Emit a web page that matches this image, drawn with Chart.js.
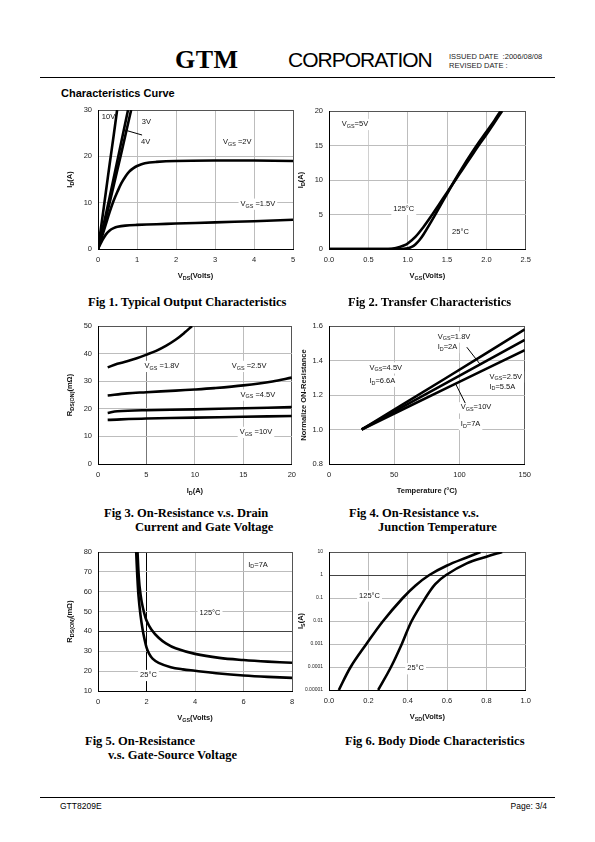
<!DOCTYPE html>
<html lang="en">
<head>
<meta charset="UTF-8">
<title>GTT8209E Characteristics Curve</title>
<style>
  body { margin: 0; background: #fff; }
  .page { position: relative; width: 595px; height: 842px; overflow: hidden; font-family: "Liberation Sans", Arial, sans-serif; color: #000; }
  .abs { position: absolute; white-space: nowrap; line-height: 1; }
  .cap { position: absolute; white-space: nowrap; font-family: "Liberation Serif", "Times New Roman", serif; font-weight: bold; font-size: 12.5px; line-height: 14px; }
  canvas { position: absolute; }
</style>
</head>
<body>
<div class="page">
  <div class="abs" style="left:175px;top:47px;font-family:'Liberation Serif',serif;font-weight:bold;font-size:26px;letter-spacing:0.5px;">GTM</div>
  <div class="abs" style="left:288px;top:49px;font-size:21px;letter-spacing:-1px;">CORPORATION</div>
  <div class="abs" style="left:449px;top:53px;font-size:7.5px;color:#222;">ISSUED DATE &nbsp;:2006/08/08</div>
  <div class="abs" style="left:449px;top:62px;font-size:7.5px;color:#222;">REVISED DATE :</div>
  <div class="abs" style="left:40px;top:77px;width:515px;height:1px;background:#000;"></div>
  <div class="abs" style="left:61px;top:88px;font-size:11px;font-weight:bold;">Characteristics Curve</div>

  <canvas id="fig1"></canvas>
  <canvas id="fig2"></canvas>
  <canvas id="fig3"></canvas>
  <canvas id="fig4"></canvas>
  <canvas id="fig5"></canvas>
  <canvas id="fig6"></canvas>

  <div class="cap" style="left:88px;top:295px;">Fig 1. Typical Output Characteristics</div>
  <div class="cap" style="left:348px;top:295px;">Fig 2. Transfer Characteristics</div>
  <div class="cap" style="left:104px;top:506px;">Fig 3. On-Resistance v.s. Drain</div>
  <div class="cap" style="left:135px;top:520px;">Current and Gate Voltage</div>
  <div class="cap" style="left:349px;top:506px;">Fig 4. On-Resistance v.s.</div>
  <div class="cap" style="left:378px;top:520px;">Junction Temperature</div>
  <div class="cap" style="left:85px;top:734px;">Fig 5. On-Resistance</div>
  <div class="cap" style="left:108px;top:748px;">v.s. Gate-Source Voltage</div>
  <div class="cap" style="left:345px;top:734px;">Fig 6. Body Diode Characteristics</div>

  <div class="abs" style="left:40px;top:797px;width:515px;height:1px;background:#000;"></div>
  <div class="abs" style="left:60px;top:802px;font-size:8.5px;">GTT8209E</div>
  <div class="abs" style="right:48px;top:802px;font-size:8.5px;">Page: 3/4</div>
</div>

<script src="https://cdn.jsdelivr.net/npm/chart.js@4.4.1/dist/chart.umd.min.js"></script>
<script>
// ---- Fig 1: output characteristics (VDS in V, ID in A)
const f1_vds_10v = [0, 0.1, 0.2, 0.3, 0.4, 0.49];
const f1_id_10v  = [0, 6, 12.2, 18.4, 24.4, 30];
const f1_vds_4v  = [0, 0.2, 0.4, 0.6, 0.77];
const f1_id_4v   = [0, 7.4, 15.2, 23.2, 30];
const f1_vds_3v  = [0, 0.2, 0.4, 0.6, 0.85];
const f1_id_3v   = [0, 6.6, 13.6, 20.8, 30];
const f1_vds_2v  = [0, 0.1, 0.2, 0.3, 0.4, 0.5, 0.6, 0.7, 0.8, 0.9, 1.0, 1.2, 1.5, 2, 3, 4, 5];
const f1_id_2v   = [0, 2.6, 5.3, 8.0, 10.4, 12.4, 14.2, 15.6, 16.7, 17.4, 17.9, 18.5, 18.8, 19.0, 19.1, 19.1, 19.0];
const f1_vds_15v = [0, 0.1, 0.2, 0.3, 0.4, 0.5, 0.7, 1, 1.5, 2, 3, 4, 5];
const f1_id_15v  = [0, 1.7, 3.1, 4.0, 4.5, 4.8, 5.05, 5.2, 5.35, 5.5, 5.75, 6.0, 6.3];

// ---- Fig 2: transfer characteristics (VGS in V, ID in A)
const f2_vgs_125 = [0, 0.75, 0.85, 0.95, 1.0, 1.1, 1.2, 1.3, 1.4, 1.5, 1.6, 1.7, 1.8, 1.9, 2.0, 2.1, 2.2];
const f2_id_125  = [0, 0, 0.15, 0.5, 0.8, 1.8, 3.2, 4.8, 6.5, 8.2, 9.9, 11.6, 13.3, 15.0, 16.6, 18.3, 20];
const f2_vgs_25  = [0, 0.9, 1.0, 1.05, 1.1, 1.15, 1.2, 1.3, 1.4, 1.5, 1.6, 1.7, 1.8, 1.9, 2.0, 2.1, 2.18];
const f2_id_25   = [0, 0, 0.1, 0.3, 0.7, 1.3, 2.1, 4.0, 6.0, 8.0, 10, 11.9, 13.7, 15.4, 17.0, 18.6, 20];

// ---- Fig 3: RDS(on) vs ID (ID in A, R in mOhm)
const f3_id_18v  = [1, 2, 3, 4, 5, 6, 7, 8, 9, 9.7];
const f3_r_18v   = [35, 36.3, 37.2, 38.3, 39.6, 41, 42.8, 45, 47.8, 50];
const f3_id_25v  = [1, 3, 5, 8, 10, 12, 15, 18, 20];
const f3_r_25v   = [24.8, 25.6, 26, 26.6, 27, 27.5, 28.5, 29.9, 31.3];
const f3_id_45v  = [1, 2, 5, 10, 15, 20];
const f3_r_45v   = [18.5, 19.1, 19.5, 19.8, 20.2, 20.6];
const f3_id_10v  = [1, 5, 10, 15, 20];
const f3_r_10v   = [16, 16.5, 16.8, 17.1, 17.4];

// ---- Fig 4: normalized RDS(on) vs junction temperature
const f4_temp    = [25, 90, 150];
const f4_top     = [1.0, 1.30, 1.58];
const f4_mid     = [1.0, 1.27, 1.52];
const f4_low     = [1.0, 1.24, 1.46];

// ---- Fig 5: RDS(on) vs VGS (ID = 7A)
const f5_vgs_25  = [1.575, 1.62, 1.67, 1.75, 1.84, 1.92, 2.0, 2.1, 2.25, 2.5, 3, 3.5, 4, 5, 6, 7, 8];
const f5_r_25    = [80, 68, 58, 48.5, 41, 36, 32, 29, 26.3, 24.2, 22, 20.9, 20.2, 18.8, 17.8, 17.1, 16.6];
const f5_vgs_125 = [1.63, 1.67, 1.72, 1.8, 1.9, 2.0, 2.2, 2.5, 2.8, 3.2, 4, 5, 6, 7, 8];
const f5_r_125   = [80, 70, 62, 55, 49.5, 45.5, 41, 36.8, 34, 31.5, 28.7, 26.7, 25.6, 24.8, 24.2];

// ---- Fig 6: body diode (VSD in V, IS in A, log)
const f6_vsd_125 = [0.05, 0.11, 0.19, 0.275, 0.375, 0.44, 0.51, 0.60, 0.70, 0.77];
const f6_is_125  = [1e-5, 1e-4, 1e-3, 1e-2, 0.1, 0.35, 1, 2.6, 5.8, 10];
const f6_vsd_25  = [0.25, 0.315, 0.37, 0.42, 0.49, 0.54, 0.595, 0.70, 0.80, 0.88];
const f6_is_25   = [1e-5, 1e-4, 1e-3, 1e-2, 0.1, 0.4, 1, 3.2, 6.2, 10];
const f6_yticks  = [1e-5, 1e-4, 1e-3, 1e-2, 0.1, 1, 10];
const f6_ylabels = ['0.00001', '0.0001', '0.001', '0.01', '0.1', '1', '10'];

const FONT = '"Liberation Sans", Arial, sans-serif';
const pts = (xs, ys) => xs.map((x, i) => ({ x: x, y: ys[i] }));

// text with _{sub} parts
function rich(ctx, text, x, y, size, bold, align, bg) {
  const parts = text.split(/(_\{[^}]*\})/).filter(s => s).map(s =>
    s.startsWith('_{') ? { s: s.slice(2, -1), sub: true } : { s: s, sub: false });
  const f = sz => (bold ? 'bold ' : '') + sz + 'px ' + FONT;
  let w = 0;
  parts.forEach(p => { ctx.font = f(p.sub ? size * 0.72 : size); p.w = ctx.measureText(p.s).width; w += p.w; });
  let sx = align === 'left' ? x : align === 'right' ? x - w : x - w / 2;
  if (bg) { ctx.fillStyle = '#fff'; ctx.fillRect(sx - 2, y - size * 0.7, w + 4, size * 1.5); }
  ctx.fillStyle = '#111';
  ctx.textBaseline = 'middle';
  ctx.textAlign = 'left';
  parts.forEach(p => {
    ctx.font = f(p.sub ? size * 0.72 : size);
    ctx.fillText(p.s, sx, p.sub ? y + size * 0.3 : y);
    sx += p.w;
  });
}

function notesPlugin(n) {
  return {
    id: 'notes',
    beforeDatasetsDraw(chart) {
      const { ctx, scales: { x, y } } = chart;
      ctx.save();
      (n.items || []).forEach(it =>
        rich(ctx, it.t, x.getPixelForValue(it.x), y.getPixelForValue(it.y), 7.5, false, it.align || 'center', it.bg));
      ctx.restore();
    },
    afterDatasetsDraw(chart) {
      const { ctx, chartArea: a, scales: { x, y } } = chart;
      ctx.save();
      ctx.strokeStyle = '#000';
      ctx.lineWidth = 1;
      (n.lines || []).forEach(l => {
        ctx.beginPath();
        ctx.moveTo(x.getPixelForValue(l[0]), y.getPixelForValue(l[1]));
        ctx.lineTo(x.getPixelForValue(l[2]), y.getPixelForValue(l[3]));
        ctx.stroke();
      });
      rich(ctx, n.xt, (a.left + a.right) / 2, a.bottom + 27, 7.5, true, 'center');
      ctx.translate(a.left - (n.ytOff || 28), (a.top + a.bottom) / 2);
      ctx.rotate(-Math.PI / 2);
      rich(ctx, n.yt, 0, 0, 7.5, true, 'center');
      ctx.restore();
    }
  };
}

function gridCol(special) {
  return c => {
    if (c.index === c.scale.ticks.length - 1) return '#555';
    if (special && c.tick && special[String(c.tick.value)]) return special[String(c.tick.value)];
    return '#bdbdbd';
  };
}

function axis(min, max, step, fmt, special, extra, tickSize) {
  return Object.assign({
    type: 'linear', min: min, max: max,
    border: { color: '#000', width: 1 },
    grid: { color: gridCol(special), drawTicks: false, lineWidth: 1 },
    ticks: { stepSize: step, font: { size: tickSize || 7.5, family: FONT }, color: '#222', padding: 6,
             maxRotation: 0, autoSkip: false, callback: fmt || (v => v) }
  }, extra || {});
}

const PL = 42, PR = 10, PT = 12, PB = 42;
function plot(id, box, sets, xs, ys, notes) {
  const cv = document.getElementById(id);
  cv.width = box[2] - box[0] + PL + PR;
  cv.height = box[3] - box[1] + PT + PB;
  cv.style.left = (box[0] - PL) + 'px';
  cv.style.top = (box[1] - PT) + 'px';
  xs.afterFit = s => { s.height = PB; };
  ys.afterFit = s => { s.width = PL; };
  return new Chart(cv, {
    type: 'line',
    data: { datasets: sets.map(s => ({ data: s, borderColor: '#000', borderWidth: 2.6, pointRadius: 0,
                                       tension: 0.35, fill: false })) },
    options: {
      responsive: false, animation: false, events: [],
      layout: { padding: { top: PT, right: PR, left: 0, bottom: 0 } },
      plugins: { legend: { display: false }, tooltip: { enabled: false } },
      scales: { x: xs, y: ys }
    },
    plugins: [notesPlugin(notes)]
  });
}

const f1 = v => v.toFixed(1);

plot('fig1', [98, 110, 293, 249],
  [pts(f1_vds_10v, f1_id_10v), pts(f1_vds_4v, f1_id_4v), pts(f1_vds_3v, f1_id_3v),
   pts(f1_vds_2v, f1_id_2v), pts(f1_vds_15v, f1_id_15v)],
  axis(0, 5, 1), axis(0, 30, 10),
  { items: [{ t: '10V', x: 0.27, y: 28.5 }, { t: '3V', x: 1.24, y: 27.5 }, { t: '4V', x: 1.22, y: 23 },
            { t: 'V_{GS} =2V', x: 3.57, y: 23, bg: true }, { t: 'V_{GS} =1.5V', x: 4.1, y: 9.75, bg: true }],
    lines: [[1.13, 24.6, 0.68, 25.7]], xt: 'V_{DS}(Volts)', yt: 'I_{D}(A)' });

plot('fig2', [329, 111, 527, 249],
  [pts(f2_vgs_125, f2_id_125), pts(f2_vgs_25, f2_id_25)],
  axis(0, 2.5, 0.5, f1, { '0.5': '#d0d0d0' }), axis(0, 20, 5),
  { items: [{ t: 'V_{GS}=5V', x: 0.33, y: 18.1, bg: true }, { t: '125°C', x: 0.95, y: 5.8, bg: true },
            { t: '25°C', x: 1.67, y: 2.46, bg: true }],
    xt: 'V_{GS}(Volts)', yt: 'I_{D}(A)' });

plot('fig3', [98, 326, 292, 464],
  [pts(f3_id_18v, f3_r_18v), pts(f3_id_25v, f3_r_25v), pts(f3_id_45v, f3_r_45v), pts(f3_id_10v, f3_r_10v)],
  axis(0, 20, 5, null, { '5': '#777' }), axis(0, 50, 10),
  { items: [{ t: 'V_{GS} =1.8V', x: 6.6, y: 35.5, bg: true }, { t: 'V_{GS} =2.5V', x: 15.6, y: 35.5, bg: true },
            { t: 'V_{GS} =4.5V', x: 16.5, y: 25.1, bg: true }, { t: 'V_{GS} =10V', x: 16.3, y: 11.6, bg: true }],
    xt: 'I_{D}(A)', yt: 'R_{DS(ON)}(mΩ)' });

plot('fig4', [329, 326, 527, 464],
  [pts(f4_temp, f4_top), pts(f4_temp, f4_mid), pts(f4_temp, f4_low)],
  axis(0, 150, 50), axis(0.8, 1.6, 0.2, f1),
  { items: [{ t: 'V_{GS}=1.8V', x: 83.3, y: 1.538, align: 'left', bg: true }, { t: 'I_{D}=2A', x: 83.3, y: 1.477, align: 'left', bg: true },
            { t: 'V_{GS}=4.5V', x: 31, y: 1.359, align: 'left', bg: true }, { t: 'I_{D}=6.6A', x: 31, y: 1.282, align: 'left', bg: true },
            { t: 'V_{GS}=2.5V', x: 123, y: 1.307, align: 'left', bg: true }, { t: 'I_{D}=5.5A', x: 123, y: 1.249, align: 'left', bg: true },
            { t: 'V_{GS}=10V', x: 101, y: 1.128, align: 'left', bg: true }, { t: 'I_{D}=7A', x: 101, y: 1.031, align: 'left', bg: true }],
    lines: [[105.6, 1.477, 115.8, 1.378], [104.4, 1.153, 96.8, 1.268]],
    xt: 'Temperature (°C)', yt: 'Normalize ON-Resistance', ytOff: 25 });

plot('fig5', [98, 552, 292, 691],
  [pts(f5_vgs_25, f5_r_25), pts(f5_vgs_125, f5_r_125)],
  axis(0, 8, 2, null, { '2': '#000', '6': '#aaa' }), axis(10, 80, 10, null, { '40': '#444' }),
  { items: [{ t: 'I_{D}=7A', x: 6.6, y: 73.6, bg: true }, { t: '125°C', x: 4.62, y: 49.1, bg: true },
            { t: '25°C', x: 2.08, y: 18.0, bg: true }],
    xt: 'V_{GS}(Volts)', yt: 'R_{DS(ON)}(mΩ)' });

plot('fig6', [329, 552, 527, 690],
  [pts(f6_vsd_125, f6_is_125), pts(f6_vsd_25, f6_is_25)],
  axis(0, 1, 0.2, f1),
  axis(1e-5, 10, null, (v, i) => f6_ylabels[i], { '1': '#444' },
    { type: 'logarithmic', afterBuildTicks: s => { s.ticks = f6_yticks.map(v => ({ value: v })); } }, 5),
  { items: [{ t: '125°C', x: 0.206, y: 0.126, bg: true }, { t: '25°C', x: 0.44, y: 8.7e-5, bg: true }],
    xt: 'V_{SD}(Volts)', yt: 'I_{S}(A)' });
</script>
</body>
</html>
